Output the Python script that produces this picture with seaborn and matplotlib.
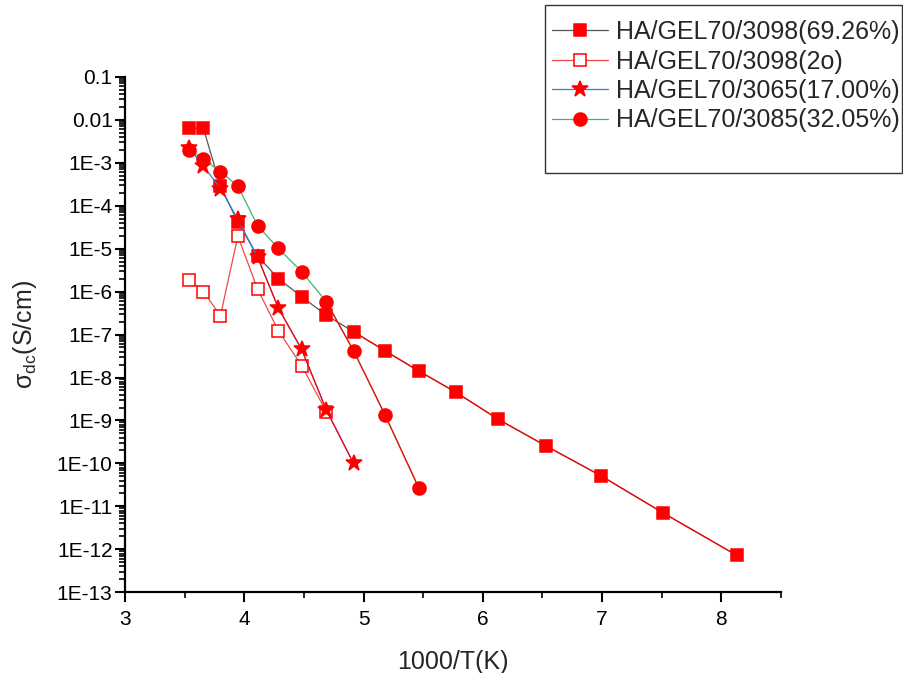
import matplotlib
matplotlib.use("Agg")
import matplotlib.pyplot as plt
import matplotlib.patches as mpatches
from matplotlib.ticker import LogLocator, NullFormatter, MultipleLocator
import seaborn as sns

# 1000/T (K^-1) for each measuring temperature
inv_temp = [3.540, 3.657, 3.800, 3.946, 4.112, 4.286, 4.481, 4.688,
            4.916, 5.179, 5.462, 5.776, 6.130, 6.530, 6.988, 7.513, 8.127]

# DC conductivity (S/cm)
sigma_3098 = [6.3e-3, 6.3e-3, 2.9e-4, 4.1e-5, 6.7e-6, 2.0e-6, 7.6e-7, 2.8e-7,
              1.16e-7, 4.2e-8, 1.42e-8, 4.5e-9, 1.06e-9, 2.55e-10, 5.2e-11,
              7.0e-12, 7.3e-13]
sigma_3098_2o = [1.86e-6, 1.0e-6, 2.74e-7, 1.96e-5, 1.13e-6, 1.23e-7,
                 1.88e-8, 1.6e-9]
sigma_3065 = [2.15e-3, 8.4e-4, 2.5e-4, 4.8e-5, 6.3e-6, 4.1e-7, 4.5e-8,
              1.75e-9, 1.0e-10]
sigma_3085 = [1.97e-3, 1.22e-3, 6.2e-4, 2.86e-4, 3.4e-5, 1.01e-5, 2.9e-6,
              5.8e-7, 4.2e-8, 1.36e-9, 2.72e-11]

series_labels = ["HA/GEL70/3098(69.26%)", "HA/GEL70/3098(2o)",
                 "HA/GEL70/3065(17.00%)", "HA/GEL70/3085(32.05%)"]

ytick_values = [1e-1, 1e-2, 1e-3, 1e-4, 1e-5, 1e-6, 1e-7, 1e-8, 1e-9,
                1e-10, 1e-11, 1e-12, 1e-13]
ytick_labels = ["0.1", "0.01", "1E-3", "1E-4", "1E-5", "1E-6", "1E-7",
                "1E-8", "1E-9", "1E-10", "1E-11", "1E-12", "1E-13"]
xtick_values = [3, 4, 5, 6, 7, 8]

sns.set_theme(style="ticks")
plt.rcParams["font.family"] = ["Liberation Sans", "DejaVu Sans"]
plt.rcParams["mathtext.fontset"] = "custom"
plt.rcParams["mathtext.rm"] = "Liberation Sans"
plt.rcParams["mathtext.it"] = "Liberation Sans"

RED = "#ff0000"

fig = plt.figure(figsize=(9.04, 6.73), dpi=100)
ax = fig.add_axes([0.1383, 0.1199, 0.7257, 0.766])
ax.set_yscale("log")

handles = []

def draw(x, y, line_color, marker, ms, face, z):
    sns.lineplot(x=x, y=y, ax=ax, sort=False, estimator=None,
                 color=line_color, linewidth=0.9, marker=marker,
                 markersize=ms, markerfacecolor=face, markeredgecolor=RED,
                 markeredgewidth=1.1, zorder=z, legend=False)
    handles.append(ax.lines[-1])

def overlay(x, y, z):
    # thin red trace running along the low-temperature part of a series
    sns.lineplot(x=x, y=y, ax=ax, sort=False, estimator=None,
                 color=RED, linewidth=0.9, zorder=z, legend=False)

n2, n3, n4 = len(sigma_3098_2o), len(sigma_3065), len(sigma_3085)
draw(inv_temp, sigma_3098, "#555555", "s", 8.6, RED, 2)
overlay(inv_temp[8:], sigma_3098[8:], 2.5)
draw(inv_temp[:n2], sigma_3098_2o, "#f04848", "s", 8.4, "white", 3)
draw(inv_temp[:n3], sigma_3065, "#3a78d8", "*", 12, RED, 4)
overlay(inv_temp[4:n3], sigma_3065[4:], 4.5)
draw(inv_temp[:n4], sigma_3085, "#3cb371", "o", 9.4, RED, 5)
overlay(inv_temp[7:n4], sigma_3085[7:], 5.5)

if ax.get_legend() is not None:
    ax.get_legend().remove()

ax.set_xlim(3, 8.5)
ax.set_ylim(1e-13, 1e-1)
ax.set_xticks(xtick_values)
ax.set_xticklabels([str(v) for v in xtick_values])
ax.xaxis.set_minor_locator(MultipleLocator(0.5))
ax.set_yticks(ytick_values)
ax.set_yticklabels(ytick_labels)
ax.yaxis.set_minor_locator(LogLocator(base=10, subs=range(2, 10), numticks=100))
ax.yaxis.set_minor_formatter(NullFormatter())

for side in ("top", "right"):
    ax.spines[side].set_visible(False)
for side in ("left", "bottom"):
    ax.spines[side].set_linewidth(1.6)
    ax.spines[side].set_color("black")

ax.tick_params(axis="both", which="major", direction="out", length=7,
               width=1.5, colors="black", labelsize=15)
ax.tick_params(axis="both", which="minor", direction="out", length=4,
               width=1.2, colors="black")
ax.tick_params(axis="y", which="major", pad=2)
ax.tick_params(axis="x", which="major", pad=6)

ax.set_xlabel("1000/T(K)", fontsize=18, labelpad=15)
ax.set_ylabel(r"σ$_{\mathrm{dc}}$(S/cm)", fontsize=18, labelpad=13)

fig.legend(handles, series_labels, loc="upper left",
           bbox_to_anchor=(552 / 904, 1 - 20 / 673), frameon=False,
           fontsize=18, handlelength=2.25, handletextpad=0.3,
           labelspacing=0.22, borderpad=0, borderaxespad=0)
fig.add_artist(mpatches.Rectangle((545 / 904, 1 - 173 / 673), 357 / 904,
                                  168 / 673, transform=fig.transFigure,
                                  fill=False, edgecolor="#333333", lw=1.0))

fig.savefig("out.png", dpi=100, facecolor="white")
